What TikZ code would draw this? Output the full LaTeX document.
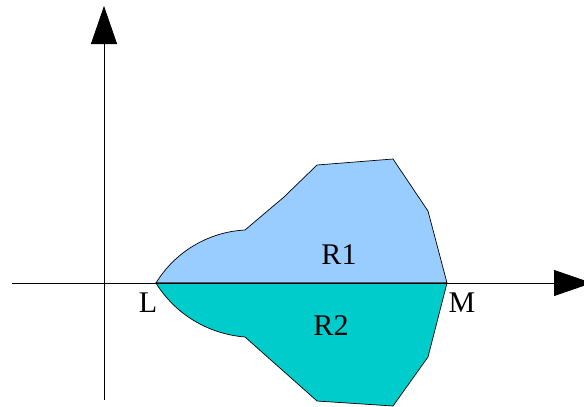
\documentclass[tikz,border=0pt]{standalone}
\usepackage{fontspec}
\setmainfont{Liberation Serif}
\usetikzlibrary{arrows.meta}
\definecolor{upperblue}{HTML}{99CCFF}
\definecolor{lowercyan}{HTML}{00CCCC}
\tikzset{
  axis/.style={line width=0.8pt, -{Triangle[length=38pt,width=26pt]}},
  region/.style={draw=black, line width=0.7pt, line join=miter},
  lbl/.style={font=\fontsize{30}{33}\selectfont, inner sep=0pt, anchor=base}
}
\begin{document}
\begin{tikzpicture}[x=1pt,y=-1pt]
\useasboundingbox (0,0) rectangle (584,407);
% points
\coordinate (L) at (156,283);
\coordinate (M) at (447,283);
\coordinate (u1) at (245,230);
\coordinate (u2) at (284,197);
\coordinate (u3) at (317,165);
\coordinate (u4) at (393,159);
\coordinate (u5) at (428,211);
\coordinate (d1) at (245,337);
\coordinate (d2) at (317,401);
\coordinate (d3) at (393,406);
\coordinate (d4) at (428,357);
\coordinate (xs) at (12,283);
\coordinate (xe) at (592,283);
\coordinate (ys) at (104,400);
\coordinate (ye) at (104,6);
% regions
\filldraw[region, fill=upperblue] (L) .. controls (175,252) and (208,232) .. (u1) -- (u2) -- (u3) -- (u4) -- (u5) -- (M) -- cycle;
\filldraw[region, fill=lowercyan] (L) .. controls (175,314) and (208,334) .. (d1) -- (d2) -- (d3) -- (d4) -- (M) -- cycle;
% axes
\draw[axis] (xs) -- (xe);
\draw[axis] (ys) -- (ye);
% labels
\node[lbl] (lL) at (148,312) {L};
\node[lbl] (lM) at (462,312) {M};
\node[lbl] (r1) at (339,264) {R1};
\node[lbl] (r2) at (331,335) {R2};
\end{tikzpicture}
\end{document}
